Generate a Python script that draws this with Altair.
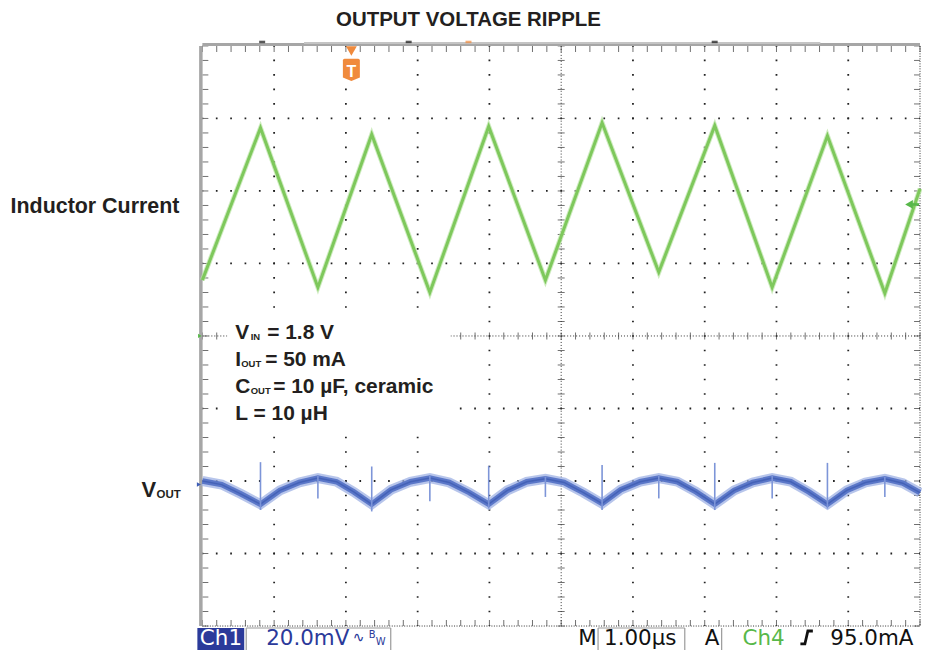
import altair as alt
import pandas as pd
import numpy as np

# ---------------- data ----------------
# time in divisions (1.00 us/div, 10 div); amplitude in divisions (8 div, 0 = bottom)
il_t = [0.0, 0.81, 1.61, 2.36, 3.17, 3.99, 4.78, 5.57, 6.36, 7.14, 7.94, 8.71, 9.51, 10.0]
il_v = [4.77, 6.87, 4.67, 6.78, 4.60, 6.89, 4.77, 6.94, 4.88, 6.90, 4.67, 6.76, 4.59, 6.03]

vout_t = [0.0, 0.27, 0.54, 0.81, 1.08, 1.35, 1.61, 1.87, 2.11, 2.36, 2.63, 2.90, 3.17,
          3.44, 3.72, 3.99, 4.25, 4.52, 4.78, 5.04, 5.31, 5.57, 5.83, 6.10, 6.36, 6.62,
          6.88, 7.14, 7.41, 7.67, 7.94, 8.20, 8.45, 8.71, 8.98, 9.24, 9.51, 9.76, 10.0]
vout_v = [2.00, 1.95, 1.82, 1.68, 1.87, 1.98, 2.04, 1.99, 1.85, 1.68, 1.88, 1.99, 2.04,
          1.98, 1.84, 1.68, 1.87, 1.99, 2.03, 1.98, 1.84, 1.69, 1.88, 1.99, 2.04, 1.99,
          1.85, 1.68, 1.87, 1.98, 2.04, 1.99, 1.85, 1.68, 1.87, 1.98, 2.03, 1.97, 1.84]

spike_t = [0.81, 1.61, 2.36, 3.17, 3.99, 4.78, 5.57, 6.36, 7.14, 7.94, 8.71, 9.51]
spike_hi = [2.26, 2.07, 2.20, 2.07, 2.21, 2.06, 2.22, 2.07, 2.25, 2.07, 2.25, 2.06]
spike_lo = [1.60, 1.76, 1.58, 1.72, 1.62, 1.78, 1.60, 1.76, 1.60, 1.76, 1.62, 1.78]

title_text = "OUTPUT VOLTAGE RIPPLE"
label_il = "Inductor Current"
param_main = ["V", "= 1.8 V", "I", "= 50 mA", "C", "= 10 µF, ceramic", "L = 10 µH"]
param_sub = ["IN", "OUT", "OUT"]
status_ch1 = "Ch1"
status_scale = "20.0mV"
status_time = ["M", "1.00µs", "A"]
status_ch4 = "Ch4"
status_level = "95.0mA"

# ---------------- layout helpers ----------------
W, H = 720, 582
xs = alt.Scale(domain=[0, 10], nice=False, zero=False)
ys = alt.Scale(domain=[0, 8], nice=False, zero=False)


def X(px):
    return (px - 203) / 72.0


def Y(py):
    return (627 - py) / 72.75


def ex(f="x"):
    return alt.X(f + ":Q", scale=xs, axis=None)


def ey(f="y"):
    return alt.Y(f + ":Q", scale=ys, axis=None)


def rules(df, **mk):
    enc = dict(x=ex(), y=ey())
    if "x2" in df:
        enc["x2"] = alt.X2("x2:Q")
    if "y2" in df:
        enc["y2"] = alt.Y2("y2:Q")
    return alt.Chart(df).mark_rule(**mk).encode(**enc)


def texts(rows, **mk):
    df = pd.DataFrame(rows, columns=["x", "y", "text"])
    return alt.Chart(df).mark_text(**mk).encode(x=ex(), y=ey(), text="text:N")


layers = []

# ---------------- graticule ----------------
major_x = [1, 2, 3, 4, 6, 7, 8, 9]
major_y = [1, 2, 3, 5, 6, 7]
minor_x = np.round(np.arange(0, 10.001, 0.2), 2)
minor_y = np.round(np.arange(0, 8.001, 0.2), 2)

layers.append(rules(pd.DataFrame({"x": major_x, "y": 8, "y2": 0}),
                    color="#222", strokeWidth=1.8, strokeDash=[1.7, 12.85], strokeDashOffset=0.85))
layers.append(rules(pd.DataFrame({"y": major_y, "x": 0, "x2": 10}),
                    color="#222", strokeWidth=1.8, strokeDash=[1.7, 12.7], strokeDashOffset=0.85))
# center cross
layers.append(rules(pd.DataFrame({"x": [5], "y": [8], "y2": [0]}),
                    color="#333", strokeWidth=1, strokeDash=[1, 2]))
layers.append(rules(pd.DataFrame({"y": [4], "x": [0], "x2": [10]}),
                    color="#333", strokeWidth=1, strokeDash=[1, 2]))
layers.append(alt.Chart(pd.DataFrame({"x": 5, "y": minor_y})).mark_tick(
    orient="horizontal", size=7, thickness=1, color="#333").encode(x=ex(), y=ey()))
layers.append(alt.Chart(pd.DataFrame({"x": minor_x, "y": 4})).mark_tick(
    orient="vertical", size=7, thickness=1, color="#333").encode(x=ex(), y=ey()))
# edge ticks
layers.append(alt.Chart(pd.DataFrame({"x": 0, "y": minor_y})).mark_tick(
    orient="horizontal", size=6, thickness=1, color="#333", xOffset=3).encode(x=ex(), y=ey()))
layers.append(alt.Chart(pd.DataFrame({"x": 10, "y": minor_y})).mark_tick(
    orient="horizontal", size=6, thickness=1, color="#333", xOffset=-3).encode(x=ex(), y=ey()))
layers.append(alt.Chart(pd.DataFrame({"x": minor_x, "y": 8})).mark_tick(
    orient="vertical", size=6, thickness=1, color="#333", yOffset=3).encode(x=ex(), y=ey()))
layers.append(alt.Chart(pd.DataFrame({"x": minor_x, "y": 0})).mark_tick(
    orient="vertical", size=6, thickness=1, color="#333", yOffset=-3).encode(x=ex(), y=ey()))
# frame
layers.append(rules(pd.DataFrame({"x": [10], "y": [8], "y2": [0]}),
                    color="#333", strokeWidth=1, strokeDash=[1, 1.5]))
layers.append(rules(pd.DataFrame({"y": [0], "x": [0], "x2": [10]}),
                    color="#333", strokeWidth=1, strokeDash=[1, 1.5]))
layers.append(rules(pd.DataFrame({"x": [0], "y": [8], "y2": [0]}),
                    color="#a6a6a6", strokeWidth=3.5, xOffset=-1.5))
layers.append(rules(pd.DataFrame({"y": [8], "x": [0], "x2": [10]}),
                    color="#a6a6a6", strokeWidth=3, yOffset=-1.5))
layers.append(rules(pd.DataFrame({"y": [Y(42)], "x": [X(305)], "x2": [X(823)]}),
                    color="#c4c4c4", strokeWidth=2))
layers.append(alt.Chart(pd.DataFrame({"x": [X(263), X(410), X(717)], "y": Y(41)})).mark_tick(
    orient="horizontal", size=6, thickness=2.5, color="#111").encode(x=ex(), y=ey()))
layers.append(alt.Chart(pd.DataFrame({"x": [X(470)], "y": [Y(41)]})).mark_tick(
    orient="horizontal", size=6, thickness=2.5, color="#f08a3c").encode(x=ex(), y=ey()))

# white box behind the parameter text
layers.append(alt.Chart(pd.DataFrame({"x": [X(228)], "x2": [X(452)], "y": [Y(316)], "y2": [Y(432)]}))
              .mark_rect(color="white").encode(x=ex(), x2="x2:Q", y=ey(), y2="y2:Q"))

# ---------------- traces ----------------
il_df = pd.DataFrame({"x": il_t, "y": il_v, "i": range(len(il_t))})
layers.append(alt.Chart(il_df).mark_line(color="#b9e4a4", strokeWidth=5, opacity=0.7)
              .encode(x=ex(), y=ey(), order="i:Q"))
layers.append(alt.Chart(il_df).mark_line(color="#7ec85c", strokeWidth=3)
              .encode(x=ex(), y=ey(), order="i:Q"))

vo_df = pd.DataFrame({"x": vout_t, "y": vout_v, "i": range(len(vout_t))})
layers.append(alt.Chart(vo_df).mark_line(color="#9fb1e4", strokeWidth=10, opacity=0.75)
              .encode(x=ex(), y=ey(), order="i:Q"))
layers.append(alt.Chart(vo_df).mark_line(color="#5573c6", strokeWidth=5.5, opacity=0.95)
              .encode(x=ex(), y=ey(), order="i:Q"))
layers.append(alt.Chart(vo_df).mark_line(color="#3e5cb3", strokeWidth=1.5, opacity=0.8)
              .encode(x=ex(), y=ey(), order="i:Q"))
layers.append(rules(pd.DataFrame({"x": spike_t, "y": spike_hi, "y2": spike_lo}),
                    color="#7d95d8", strokeWidth=1.6))

# ---------------- markers ----------------
green = "#58b84a"
layers.append(alt.Chart(pd.DataFrame({"x": [X(912)], "y": [Y(204)]})).mark_point(
    shape="triangle-left", filled=True, size=80, color=green, opacity=1).encode(x=ex(), y=ey()))
layers.append(rules(pd.DataFrame({"y": [Y(204)], "x": [X(914)], "x2": [X(922)]}),
                    color=green, strokeWidth=2.5))
layers.append(alt.Chart(pd.DataFrame({"x": [X(200.5)], "y": [Y(336)]})).mark_point(
    shape="triangle-right", filled=True, size=18, color=green, opacity=1).encode(x=ex(), y=ey()))
layers.append(alt.Chart(pd.DataFrame({"x": [X(199.5)], "y": [Y(485)]})).mark_point(
    shape="triangle-right", filled=True, size=22, color="#3d5cb5", opacity=1).encode(x=ex(), y=ey()))
orange = "#f08a3c"
layers.append(alt.Chart(pd.DataFrame({"x": [X(352.5)], "y": [Y(50)]})).mark_point(
    shape="triangle-down", filled=True, size=120, color=orange, opacity=1).encode(x=ex(), y=ey()))
layers.append(alt.Chart(pd.DataFrame({"x": [X(352.5)], "y": [Y(69)]})).mark_point(
    shape="M-1,-1.1 Q-1,-1.3 -0.8,-1.3 L0.8,-1.3 Q1,-1.3 1,-1.1 L1,0.9 L0,1.3 L-1,0.9 Z",
    filled=True, size=290, color=orange, opacity=1).encode(x=ex(), y=ey()))
layers.append(texts([(X(352.5), Y(76), "T")], font="Liberation Sans", fontWeight="bold",
                    fontSize=16, color="white", align="center", baseline="alphabetic"))

# ---------------- text ----------------
ink = "#231f20"
layers.append(texts([(X(470), Y(25), title_text)], font="Liberation Sans", fontWeight="bold",
                    fontSize=20.5, color=ink, align="center", baseline="alphabetic"))
layers.append(texts([(X(180), Y(213), label_il)], font="Liberation Sans", fontWeight="bold",
                    fontSize=21.5, color=ink, align="right", baseline="alphabetic"))
layers.append(texts([(X(142), Y(498), "V")], font="Liberation Sans", fontWeight="bold",
                    fontSize=22, color=ink, align="left", baseline="alphabetic"))
layers.append(texts([(X(157), Y(499), "OUT")], font="Liberation Sans", fontWeight="bold",
                    fontSize=11.5, color=ink, align="left", baseline="alphabetic"))
param_x = [236, 268, 236, 266, 236, 274, 236]
param_y = [339, 339, 366, 366, 393, 393, 420]
layers.append(texts([(X(a), Y(b), t) for a, b, t in zip(param_x, param_y, param_main)],
                    font="Liberation Sans", fontWeight="bold", fontSize=21, color=ink,
                    align="left", baseline="alphabetic"))
sub_x = [251.5, 242, 251.5]
sub_y = [340, 367, 394]
layers.append(texts([(X(a), Y(b), t) for a, b, t in zip(sub_x, sub_y, param_sub)],
                    font="Liberation Sans", fontWeight="bold", fontSize=9.5, color=ink,
                    align="left", baseline="alphabetic"))

# ---------------- status bar ----------------
blue = "#2b3a9a"
layers.append(alt.Chart(pd.DataFrame({"x": [X(198)], "x2": [X(245)], "y": [Y(629)], "y2": [Y(651)]}))
              .mark_rect(color=blue).encode(x=ex(), x2="x2:Q", y=ey(), y2="y2:Q"))
box = pd.DataFrame({"x": [X(247), X(247), X(392), X(600), X(600), X(687), X(724)],
                    "x2": [X(392), X(247), X(392), X(687), X(600), X(687), X(724)],
                    "y": [Y(629), Y(629), Y(629), Y(629), Y(629), Y(629), Y(629)],
                    "y2": [Y(629), Y(651), Y(651), Y(629), Y(651), Y(651), Y(651)]})
layers.append(rules(box, color="#9a9a9a", strokeWidth=1.2))
sfont = dict(font="DejaVu Sans", fontSize=21.5, align="left", baseline="alphabetic")
layers.append(texts([(X(200.5), Y(646), status_ch1)], color="white", **sfont))
layers.append(texts([(X(267), Y(646), status_scale)], color=blue, **sfont))
layers.append(texts([(X(354), Y(643), "∿")], color=blue, font="DejaVu Sans", fontSize=14,
                    align="left", baseline="alphabetic"))
layers.append(texts([(X(370), Y(639), "B"), (X(377), Y(646), "W")], color=blue,
                    font="DejaVu Sans", fontSize=10, align="left", baseline="alphabetic"))
layers.append(texts([(X(a), Y(646), t) for a, t in zip([580, 606, 707], status_time)],
                    color="#111", **sfont))
layers.append(texts([(X(745), Y(646), status_ch4)], color=green, **sfont))
layers.append(texts([(X(833), Y(646), status_level)], color="#111", **sfont))
trig = pd.DataFrame({"x": [X(803), X(807.5), X(810.5), X(815.5)],
                     "y": [Y(645), Y(645), Y(632), Y(632)], "i": [0, 1, 2, 3]})
layers.append(alt.Chart(trig).mark_line(color="#111", strokeWidth=2.8)
              .encode(x=ex(), y=ey(), order="i:Q"))

chart = alt.layer(*layers).properties(
    width=W, height=H,
    autosize=alt.AutoSizeParams(type="none"),
    padding={"left": 195, "top": 37, "right": 2, "bottom": 24},
    background="white",
).configure_view(stroke=None)

chart.save("out.html", embed_options={"renderer": "svg", "actions": False})
